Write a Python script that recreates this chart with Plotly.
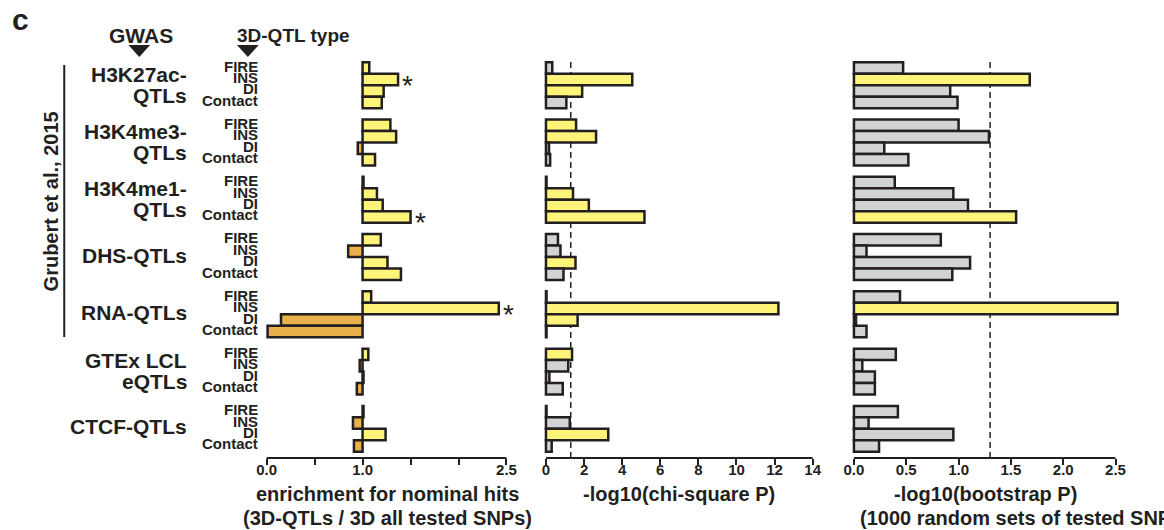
import plotly.graph_objects as go

W, H = 1164, 530

# ---------------- data ----------------
group_lines = [["H3K27ac-", "QTLs"], ["H3K4me3-", "QTLs"], ["H3K4me1-", "QTLs"],
               ["DHS-QTLs"], ["RNA-QTLs"], ["GTEx LCL", "eQTLs"], ["CTCF-QTLs"]]
qtl_types = ["FIRE", "INS", "DI", "Contact"]

# enrichment for nominal hits (3D-QTLs / 3D all tested SNPs), baseline 1.0
enrichment = [
    [1.07, 1.37, 1.22, 1.20],
    [1.29, 1.35, 0.95, 1.13],
    [1.01, 1.15, 1.21, 1.50],
    [1.19, 0.85, 1.26, 1.40],
    [1.09, 2.42, 0.15, 0.01],
    [1.06, 0.97, 1.01, 0.94],
    [1.01, 0.90, 1.24, 0.91],
]
# -log10(chi-square P)
chisq = [
    [0.33, 4.53, 1.90, 1.07],
    [1.58, 2.63, 0.16, 0.22],
    [0.03, 1.42, 2.25, 5.17],
    [0.63, 0.76, 1.55, 0.92],
    [0.03, 12.20, 1.66, 0.03],
    [1.37, 1.17, 0.18, 0.88],
    [0.03, 1.25, 3.27, 0.30],
]
# -log10(bootstrap P)
bootstrap = [
    [0.47, 1.68, 0.92, 0.99],
    [1.00, 1.29, 0.29, 0.52],
    [0.39, 0.95, 1.09, 1.55],
    [0.83, 0.12, 1.11, 0.94],
    [0.44, 2.52, 0.02, 0.12],
    [0.40, 0.08, 0.20, 0.20],
    [0.42, 0.14, 0.95, 0.24],
]
p_threshold = 1.30103  # -log10(0.05)

tick1_vals = [0, 0.5, 1.0, 1.5, 2.0, 2.5]
tick1_text = ["0.0", "", "1.0", "", "", "2.5"]
tick2_vals = [0, 2, 4, 6, 8, 10, 12, 14]
tick2_text = ["0", "2", "4", "6", "8", "10", "12", "14"]
tick3_vals = [0, 0.5, 1.0, 1.5, 2.0, 2.5]
tick3_text = ["0.0", "0.5", "1.0", "1.5", "2.0", "2.5"]

# ---------------- styling ----------------
DARK = "#231F20"
YELLOW = "#FFF47A"
ORANGE = "#E9B04C"
GRAY = "#D2D3D5"
FONT = "Liberation Sans, Arial, Helvetica, sans-serif"


def px(x):
    return x / W


def py(y):
    return (H - y) / H


# vertical layout (slot positions)
ypos = [5 * g + b for g in range(len(group_lines)) for b in range(len(qtl_types))]
y_range = [34.05, -0.79]
ydom = [py(458), py(59)]

# horizontal layout: (pixel of zero, px per unit, range)
panels = [
    (263.0, 97.2, [-0.04, 2.52]),
    (546.0, 19.3, [-0.2, 14.1]),
    (858.0, 106.0, [-0.035, 2.545]),
]


def dom(p):
    z, s, r = p
    return [px(z + r[0] * s), px(z + r[1] * s)]


flat_enr = [v for row in enrichment for v in row]
flat_chi = [v for row in chisq for v in row]
flat_boot = [v for row in bootstrap for v in row]

fig = go.Figure()
line = dict(color=DARK, width=2.5)
fig.add_trace(go.Bar(
    x=[v - 1.0 for v in flat_enr], base=1.0, y=ypos, orientation="h", width=1.0,
    marker=dict(color=[YELLOW if v >= 1 else ORANGE for v in flat_enr], line=line),
    xaxis="x", yaxis="y", showlegend=False, hoverinfo="skip"))
fig.add_trace(go.Bar(
    x=flat_chi, y=ypos, orientation="h", width=1.0,
    marker=dict(color=[YELLOW if v > p_threshold else GRAY for v in flat_chi], line=line),
    xaxis="x2", yaxis="y2", showlegend=False, hoverinfo="skip"))
fig.add_trace(go.Bar(
    x=flat_boot, y=ypos, orientation="h", width=1.0,
    marker=dict(color=[YELLOW if v > p_threshold else GRAY for v in flat_boot], line=line),
    xaxis="x3", yaxis="y3", showlegend=False, hoverinfo="skip"))

tickfont = dict(family=FONT, size=15, color=DARK, weight="bold")


def xax(p, anchor, tv, tt):
    return dict(domain=dom(p), range=p[2], anchor=anchor, showline=False, showgrid=False,
                zeroline=False, ticks="outside", ticklen=6, tickwidth=2, tickcolor=DARK,
                tickvals=tv, ticktext=tt, tickfont=tickfont, fixedrange=True,
                ticklabelstandoff=-8)


def yax(anchor):
    return dict(domain=ydom, range=y_range, anchor=anchor, visible=False,
                showgrid=False, zeroline=False, fixedrange=True)


shapes = []
# axis lines
for ax, lo, hi in [("x", 0, 2.5), ("x2", 0, 14), ("x3", 0, 2.5)]:
    shapes.append(dict(type="line", xref=ax, yref="paper", x0=lo, x1=hi,
                       y0=ydom[0], y1=ydom[0], line=dict(color=DARK, width=2)))
# significance thresholds
for ax in ["x2", "x3"]:
    shapes.append(dict(type="line", xref=ax, yref="paper", x0=p_threshold, x1=p_threshold,
                       y0=ydom[0], y1=ydom[1], layer="below",
                       line=dict(color=DARK, width=1.5, dash="6px,4px")))
# bracket line for Grubert et al.
shapes.append(dict(type="line", xref="paper", yref="paper", x0=px(58), x1=px(58),
                   y0=py(65), y1=py(337), line=dict(color=DARK, width=2)))
# triangles
for cx in [134, 244]:
    path = "M {} {} L {} {} L {} {} Z".format(px(cx - 11), py(45), px(cx + 11), py(45), px(cx), py(57))
    shapes.append(dict(type="path", xref="paper", yref="paper", path=path,
                       fillcolor=DARK, line=dict(color=DARK, width=0)))

ann = []


def text(x, y, t, size, xanchor="center", yref="paper", yshift=0, weight="bold", **kw):
    d = dict(x=x, y=y, text=t, xref="paper", yref=yref, xanchor=xanchor, yanchor="middle",
             showarrow=False, yshift=yshift,
             font=dict(family=FONT, size=size, color=DARK, weight=weight))
    d.update(kw)
    ann.append(d)


text(px(14), py(20), "c", 30)
text(px(136), py(36), "GWAS", 21)
text(px(231), py(36), "3D-QTL type", 19, xanchor="left")
text(px(45), py(201), "Grubert et al., 2015", 20, textangle=-90)

for g, lines in enumerate(group_lines):
    yc = 5 * g + 1.5
    if len(lines) == 2:
        text(px(184), yc, lines[0], 21, xanchor="right", yref="y", yshift=11)
        text(px(184), yc, lines[1], 21, xanchor="right", yref="y", yshift=-10)
    else:
        text(px(184), yc, lines[0], 21, xanchor="right", yref="y", yshift=2)
    for b, name in enumerate(qtl_types):
        text(px(256), 5 * g + b, name, 15, xanchor="right", yref="y", yshift=2)

# stars on enrichment panel where bootstrap is significant
for g in range(len(group_lines)):
    for b in range(len(qtl_types)):
        if bootstrap[g][b] > p_threshold:
            ann.append(dict(x=enrichment[g][b], y=5 * g + b, xref="x", yref="y", text="*",
                            showarrow=False, xanchor="left", yanchor="middle", xshift=2, yshift=-6,
                            font=dict(family=FONT, size=28, color=DARK)))

# axis titles
text(px(385), py(494), "enrichment for nominal hits", 20)
text(px(385), py(518), "(3D-QTLs / 3D all tested SNPs)", 20)
text(px(681), py(494), "-log10(chi-square P)", 20)
text(px(991), py(494), "-log10(bootstrap P)", 20)
text(px(862), py(518), "(1000 random sets of tested SNPs)", 20, xanchor="left")

fig.update_layout(
    width=W, height=H, margin=dict(l=0, r=0, t=0, b=0),
    paper_bgcolor="white", plot_bgcolor="white",
    font=dict(family=FONT, color=DARK),
    xaxis=xax(panels[0], "y", tick1_vals, tick1_text),
    xaxis2=xax(panels[1], "y2", tick2_vals, tick2_text),
    xaxis3=xax(panels[2], "y3", tick3_vals, tick3_text),
    yaxis=yax("x"), yaxis2=yax("x2"), yaxis3=yax("x3"),
    shapes=shapes, annotations=ann, barmode="overlay",
)

fig.write_html("out.html")
